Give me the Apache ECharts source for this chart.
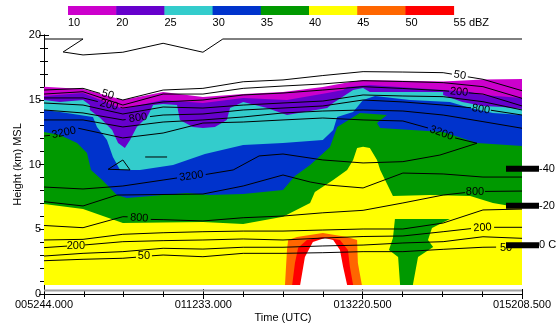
<!DOCTYPE html>
<html>
<head>
<meta charset="utf-8">
<script src="https://cdn.jsdelivr.net/npm/echarts@6/dist/echarts.min.js"></script>
<style>
  html, body { margin: 0; padding: 0; background: #fff; }
  #chart { width: 557px; height: 325px; }
</style>
</head>
<body>
<div id="chart"></div>
<script>
// x is in time steps (0..12), y in km MSL
const timeLabels = ['005244.000', '011233.000', '013220.500', '015208.500']
const dbzLabels = ['10', '20', '25', '30', '35', '40', '45', '50', '55 dBZ']
const dbzColors = ['#cc00cc', '#6600cc', '#33cccc', '#0033cc', '#009900', '#ffff00', '#ff6600', '#ff0000']
const tempLabels = ['-40', '-20', '0 C']
const tempHeights = [9.68, 6.82, 3.76]
const groundLine = [[0, 0.27], [12, 0.27]]

// filled reflectivity areas, each one painted over the previous
const dbz10Area = [[0,16.01],[0.98,15.83],[1.98,14.98],[2.99,15.60],[3.99,15.21],[5,15.44],[6,15.60],[7,15.98],[7.68,16.37],[8.01,16.53],[10.02,16.41],[11.02,16.56],[12,16.60],[12,0.69],[0,0.69]]
const dbz20Area = [[0,15.29],[0.98,15.52],[1.98,14.29],[2.99,14.98],[3.99,14.75],[5,15.14],[6.1,14.98],[7.11,15.52],[7.51,15.75],[7.61,15.98],[8.18,16.14],[10.02,15.75],[10.7,15.60],[11.02,15.37],[12,15.14],[12,0.69],[0,0.69]]
const dbz25Area = [[0,14.98],[0.40,14.83],[0.98,14.98],[1.15,14.59],[1.15,14.21],[1.41,13.59],[1.71,12.66],[1.86,11.66],[2.03,11.27],[2.16,11.89],[2.33,12.90],[2.59,13.67],[2.74,14.59],[2.99,14.67],[3.34,14.59],[3.41,13.44],[3.74,12.90],[3.99,12.82],[4.29,12.90],[4.59,13.44],[4.67,14.36],[5,14.83],[5.60,14.36],[6.10,13.82],[7.11,14.36],[7.26,14.75],[7.76,15.75],[8.01,15.91],[8.18,15.60],[10.02,15.60],[10.02,15.37],[10.50,14.83],[11.02,14.52],[11.52,14.44],[12,14.29],[12,0.69],[0,0.69]]
const dbz30Area = [[0,14.21],[0.40,14.05],[1.23,13.67],[1.33,12.90],[1.58,11.89],[1.73,10.58],[1.91,9.58],[2.41,9.58],[3.24,9.96],[4.04,10.81],[5,11.51],[6,11.66],[7,11.89],[7.26,12.66],[7.36,13.67],[7.76,14.05],[8.01,14.98],[8.31,15.29],[9.19,14.98],[10.19,14.83],[10.70,14.36],[11.27,13.98],[12,13.82],[12,0.69],[0,0.69]]
const dbz35Area = [[0,12.51],[0.40,12.28],[0.83,11.66],[1.08,10.89],[1.18,9.58],[1.46,8.80],[1.83,7.64],[2.08,7.41],[3.59,7.80],[4.17,7.64],[5,7.72],[6,8.03],[6.30,9.11],[6.68,9.96],[7.18,11.35],[7.36,12.90],[7.93,13.98],[8.61,13.82],[8.36,13.20],[8.44,12.82],[10.02,12.51],[10.87,11.66],[12,11.43],[12,0.69],[0,0.69]]
const dbz40Area = [[0,6.95],[0.98,6.56],[1.98,5.48],[3.99,5.56],[5,5.41],[6,5.97],[6.68,7.03],[6.80,7.88],[7.26,8.80],[7.61,9.58],[7.76,10.35],[7.86,11.27],[8.01,11.37],[8.18,11.27],[8.36,10.35],[8.44,9.58],[8.76,7.57],[9.69,7.64],[10.70,7.57],[11.27,7.03],[12,6.64],[12,0.69],[0,0.69]]
const dbz35Pocket = [[8.81,5.79],[10.19,5.79],[9.74,5.10],[9.64,4.17],[9.77,3.63],[9.39,2.86],[9.26,0.69],[8.94,0.69],[8.89,2.86],[8.66,3.40],[8.76,4.32]]
const dbz45Area = [[6.05,0.69],[6.10,3.40],[6.13,4.17],[6.35,4.40],[7.0,4.71],[7.61,4.40],[7.86,4.17],[7.88,2.39],[7.98,0.69]]
const dbz50Area = [[6.23,0.69],[6.30,2.39],[6.38,3.58],[6.60,4.17],[7.0,4.40],[7.43,4.17],[7.63,3.40],[7.68,2.08],[7.76,0.69]]
const noEchoArea = [[6.43,0.69],[6.55,2.86],[6.75,4.02],[7.05,4.32],[7.26,4.17],[7.43,3.40],[7.51,2.08],[7.61,0.69]]

// contour lines, split where the labels sit
const contourTop = [[[0,19.69],[0.98,19.69],[0.48,18.69],[0.98,18.46],[1.98,18.67],[2.99,19.36],[3.99,18.67],[4.49,19.69],[12,19.69]]]
const contourUpper50 = [
  [[0,15.75],[0.98,15.88],[1.41,15.49]],
  [[1.82,15.12],[1.98,14.98],[2.99,15.75],[3.99,15.88],[5,16.39],[6,16.53],[7,16.87],[8.01,17.17],[9.01,17.14],[10.02,17.09],[10.24,16.98]],
  [[10.64,16.77],[11.02,16.58],[12,15.70]]
]
const contourUpper100 = [[[0,15.44],[0.98,15.62],[1.98,14.59],[2.99,15.44],[3.99,15.44],[5,15.88],[6,16.06],[7,16.22],[8.01,16.47],[9.01,16.41],[10.02,16.32],[11.02,16.01],[12,15.11]]]
const contourUpper200 = [
  [[0,15.14],[0.98,15.14],[1.35,14.86]],
  [[1.92,14.41],[1.98,14.36],[2.99,14.83],[3.99,14.98],[5,15.37],[6,15.52],[7,15.75],[8.01,16.01],[9.01,15.87],[10.02,15.70],[10.17,15.66]],
  [[10.66,15.53],[11.02,15.44],[12,14.52]]
]
const contourUpper400 = [[[0,14.75],[0.98,14.59],[1.98,13.90],[2.99,14.44],[3.99,14.36],[5,14.59],[6,14.75],[7,14.90],[8.01,15.37],[9.01,15.29],[10.02,15.24],[11.02,14.85],[12,14.21]]]
const contourUpper800 = [
  [[0,14.21],[0.98,13.98],[1.98,13.44],[2.05,13.47]],
  [[2.66,13.70],[2.99,13.82],[3.99,13.90],[5,14.21],[6,14.36],[7,14.52],[8.01,14.98],[9.01,14.83],[10.02,14.59],[10.72,14.38]],
  [[11.22,14.19],[12,13.82]]
]
const contourUpper1600 = [[[0,13.44],[0.98,13.44],[1.98,12.90],[2.99,13.28],[3.99,13.44],[5,13.67],[6,13.98],[7,14.13],[8.01,14.21],[9.01,14.13],[10.02,13.82],[11.02,13.31],[12,12.80]]]
const contour3200 = [
  [[0,12.20],[0.15,12.25]],
  [[0.86,12.80],[1.98,12.05],[2.99,12.43],[3.99,13.20],[5,13.28],[6,13.44],[7,13.59],[8.01,13.44],[9.01,13.36],[9.64,12.82]],
  [[10.32,12.05],[10.87,11.64],[9.94,10.73],[9.01,10.22],[8.01,10.12],[7,10.35],[6,10.81],[5.4,10.66],[4.75,9.58],[4.06,9.23]],
  [[3.34,8.96],[2.99,8.80],[1.98,8.34],[0.98,8.11],[0,8.26]]
]
const contourLower1600 = [[[0,7.13],[0.98,6.80],[1.83,7.64],[3.99,7.72],[5,8.34],[6,9.19],[6.68,8.65],[7.11,8.42],[8.01,8.19],[9.01,9.34],[10.02,9.27],[11.02,9.03],[12,9.03]]]
const contourLower800 = [
  [[0,5.29],[0.98,5.12],[1.98,5.97],[2.1,5.96]],
  [[2.68,5.76],[2.99,5.74],[3.99,5.64],[5,5.89],[6,6.02],[7,6.27],[8.01,6.46],[9.01,7.03],[10.02,7.64],[10.57,7.83]],
  [[11.07,7.92],[12,7.95]]
]
const contourLower400 = [[[0,4.17],[0.98,4.22],[1.98,4.61],[2.99,4.73],[3.99,4.81],[5,4.86],[6,4.86],[7,4.94],[8.01,5.02],[9.01,5.02],[10.02,5.48],[11.02,6.49],[12,6.56]]]
const contourLower200 = [
  [[0,3.58],[0.58,3.70]],
  [[1.03,3.79],[1.98,4.04],[2.99,4.12],[3.99,4.17],[5,4.25],[6,4.17],[7,4.32],[8.01,4.44],[9.01,4.48],[10.02,4.81],[10.72,5.05]],
  [[11.30,5.15],[12,5.15]]
]
const contourLower100 = [[[0,2.93],[0.98,3.14],[1.98,3.27],[2.99,3.53],[3.99,3.47],[5,3.61],[6,3.61],[7,3.71],[8.01,3.78],[9.01,3.94],[10.02,4.04],[11.02,4.42],[12,4.30]]]
const contourLower50 = [
  [[0,2.57],[0.98,2.68],[1.98,2.76],[2.31,2.84]],
  [[2.71,2.95],[2.99,3.01],[3.99,2.88],[5,3.14],[6,3.14],[7,3.19],[8.01,3.27],[9.01,3.27],[10.02,3.45],[11.02,3.61],[11.35,3.62]],
  [[11.85,3.64],[12,3.65]]
]
const contourSmall = [
  [[1.61,9.63],[1.98,10.35],[2.16,9.58],[1.61,9.63]],
  [[2.54,10.58],[3.09,10.58]]
]

// [x, km, text, angle in degrees]
const contourLabels = [
  [1.60, 15.40, '50', -16],
  [1.63, 14.60, '200', -14],
  [2.36, 13.60, '800', 8],
  [0.50, 12.45, '3200', 12],
  [10.44, 16.90, '50', -9],
  [10.42, 15.60, '200', -5],
  [10.97, 14.26, '800', -8],
  [9.98, 12.43, '3200', -20],
  [2.39, 5.87, '800', -3],
  [0.80, 3.72, '200', 0],
  [2.51, 2.90, '50', 0],
  [3.70, 9.10, '3200', 8],
  [10.82, 7.88, '800', 0],
  [11.01, 5.12, '200', 4],
  [11.60, 3.56, '50', 0]
]

const font = '"Liberation Sans", Arial, sans-serif'

function areaSeries(points, color) {
  return {
    type: 'custom',
    silent: true,
    z: 1,
    data: points,
    renderItem: (params, api) => {
      if (params.dataIndex !== 0) return
      return {
        type: 'polygon',
        shape: { points: points.map(p => api.coord(p)) },
        style: { fill: color }
      }
    }
  }
}

function lineSeries(points, color, width) {
  return {
    type: 'line',
    silent: true,
    z: 2,
    data: points,
    showSymbol: false,
    lineStyle: { color: color, width: width }
  }
}

const areas = [
  [dbz10Area, dbzColors[0]],
  [dbz20Area, dbzColors[1]],
  [dbz25Area, dbzColors[2]],
  [dbz30Area, dbzColors[3]],
  [dbz35Area, dbzColors[4]],
  [dbz40Area, dbzColors[5]],
  [dbz35Pocket, dbzColors[4]],
  [dbz45Area, dbzColors[6]],
  [dbz50Area, dbzColors[7]],
  [noEchoArea, '#ffffff']
]

const contours = [
  contourTop, contourUpper50, contourUpper100, contourUpper200, contourUpper400,
  contourUpper800, contourUpper1600, contour3200, contourLower1600, contourLower800,
  contourLower400, contourLower200, contourLower100, contourLower50, contourSmall
]

const series = []
areas.forEach(a => series.push(areaSeries(a[0], a[1])))
series.push(lineSeries(groundLine, '#a0a0a0', 2))
contours.forEach(c => c.forEach(seg => series.push(lineSeries(seg, '#000', 1))))

series.push({
  type: 'custom',
  silent: true,
  z: 3,
  data: contourLabels.map(l => [l[0], l[1]]),
  renderItem: (params, api) => {
    const l = contourLabels[params.dataIndex]
    const p = api.coord([l[0], l[1]])
    return {
      type: 'text',
      x: p[0],
      y: p[1],
      rotation: l[3] * Math.PI / 180,
      style: { text: l[2], fill: '#000', fontSize: 11, fontFamily: font, align: 'center', verticalAlign: 'middle' }
    }
  }
})

series.push({
  type: 'custom',
  silent: true,
  z: 4,
  clip: false,
  data: tempHeights.map(h => [12, h]),
  renderItem: (params, api) => {
    const p = api.coord([12, tempHeights[params.dataIndex]])
    return {
      type: 'group',
      children: [
        { type: 'rect', shape: { x: p[0] - 16, y: p[1] - 3, width: 33, height: 6 }, style: { fill: '#000' } },
        { type: 'text', x: p[0] + 17, y: p[1], style: { text: tempLabels[params.dataIndex], fill: '#000', fontSize: 11, fontFamily: font, verticalAlign: 'middle' } }
      ]
    }
  }
})

// colour key along the top
const keyLeft = 68
const keyStep = 48.2
const graphic = []
dbzColors.forEach((c, i) => {
  graphic.push({ type: 'rect', left: keyLeft + i * keyStep, top: 6, shape: { width: keyStep + 0.5, height: 9 }, style: { fill: c } })
})
dbzLabels.forEach((s, i) => {
  graphic.push({ type: 'text', left: keyLeft + i * keyStep, top: 17, style: { text: s, fill: '#000', fontSize: 11, fontFamily: font } })
})

const frame = { lineStyle: { color: '#000', width: 1 } }

const chart = echarts.init(document.getElementById('chart'))
chart.setOption({
  animation: false,
  grid: { left: 44, right: 35, top: 35, bottom: 31, outerBoundsMode: 'none', containLabel: false },
  graphic: graphic,
  xAxis: [{
    type: 'value', min: 0, max: 12, interval: 4, position: 'bottom',
    axisLine: frame,
    axisTick: { inside: true, length: 5, lineStyle: { color: '#000' } },
    minorTick: { show: true, splitNumber: 4, length: 3, lineStyle: { color: '#000' } },
    splitLine: { show: false },
    axisLabel: { formatter: v => timeLabels[Math.round(v / 4)], color: '#000', fontSize: 11, fontFamily: font, margin: 5 },
    name: 'Time (UTC)', nameLocation: 'middle', nameGap: 18, nameMoveOverlap: false,
    nameTextStyle: { color: '#000', fontSize: 11, fontFamily: font }
  }, {
    type: 'value', min: 0, max: 12, interval: 4, position: 'top',
    axisLine: frame,
    axisTick: { inside: true, length: 5, lineStyle: { color: '#000' } },
    minorTick: { show: true, splitNumber: 4, length: 3, lineStyle: { color: '#000' } },
    splitLine: { show: false },
    axisLabel: { show: false }
  }],
  yAxis: [{
    type: 'value', min: 0, max: 20, interval: 5, position: 'left',
    axisLine: frame,
    axisTick: { inside: true, length: 5, lineStyle: { color: '#000' } },
    minorTick: { show: true, splitNumber: 5, length: 4, lineStyle: { color: '#000' } },
    splitLine: { show: false },
    axisLabel: { color: '#000', fontSize: 11, fontFamily: font, margin: 3 },
    name: 'Height (km) MSL', nameLocation: 'middle', nameGap: 21, nameMoveOverlap: false,
    nameTextStyle: { color: '#000', fontSize: 11, fontFamily: font }
  }, {
    type: 'value', min: 0, max: 20, interval: 5, position: 'right',
    axisLine: frame,
    axisTick: { inside: true, length: 5, lineStyle: { color: '#000' } },
    minorTick: { show: true, splitNumber: 5, length: 4, lineStyle: { color: '#000' } },
    splitLine: { show: false },
    axisLabel: { show: false }
  }],
  series: series
})
</script>
</body>
</html>
